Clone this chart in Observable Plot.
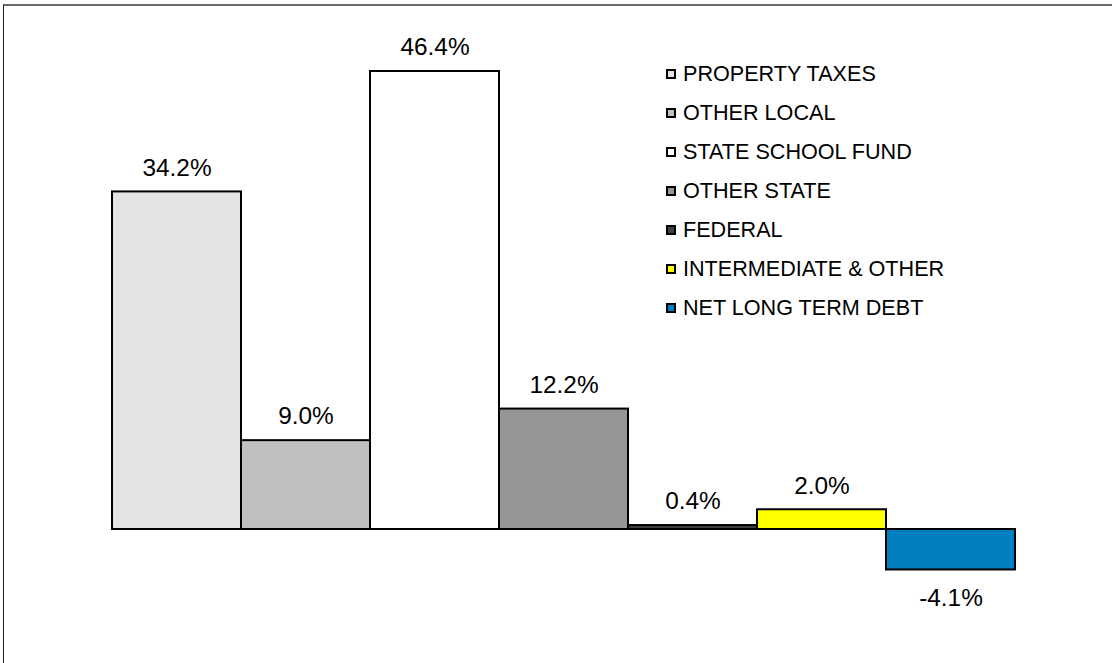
<!DOCTYPE html>
<html>
<head>
<meta charset="utf-8">
<script src="https://cdn.jsdelivr.net/npm/d3@7"></script>
<script src="https://cdn.jsdelivr.net/npm/@observablehq/plot@0.6"></script>
<style>
  html, body { margin: 0; padding: 0; background: #fff; }
  #wrap { position: relative; width: 1112px; height: 663px; overflow: hidden; font-family: "Liberation Sans", Arial, sans-serif; }
  #frame { position: absolute; left: 3px; top: 4px; width: 1200px; height: 700px; border-left: 1.5px solid #202020; border-top: 2px solid #6a6a6a; pointer-events: none; z-index: 2; }
  #legend { position: absolute; left: 666px; top: 54px; font-size: 21.6px; color: #000; z-index: 3; }
  .item { display: flex; align-items: center; height: 39.15px; }
  .sw { width: 6px; height: 6px; border: 2px solid #000; margin-right: 7px; box-sizing: content-box; }
  #chart svg { position: absolute; left: 0; top: 0; z-index: 1; }
</style>
</head>
<body>
<div id="wrap">
  <div id="chart"></div>
  <div id="frame"></div>
  <div id="legend"></div>
</div>
<script>
const categories = ["PROPERTY TAXES", "OTHER LOCAL", "STATE SCHOOL FUND", "OTHER STATE", "FEDERAL", "INTERMEDIATE & OTHER", "NET LONG TERM DEBT"];
const values = [34.2, 9.0, 46.4, 12.2, 0.4, 2.0, -4.1];
const colors = ["#e3e3e3", "#c0c0c0", "#ffffff", "#969696", "#404040", "#ffff00", "#0080c0"];

const data = categories.map((c, i) => ({ category: c, value: values[i], color: colors[i] }));
const fmt = v => v.toFixed(1) + "%";

const chart = Plot.plot({
  width: 1112,
  height: 663,
  margin: 0,
  style: { fontFamily: "'Liberation Sans', Arial, sans-serif", background: "transparent" },
  x: { domain: categories, range: [112, 1015], padding: 0, axis: null },
  y: { domain: [0, 46.4], range: [529, 71], axis: null },
  marks: [
    Plot.barY(data, { x: "category", y: "value", fill: "color", stroke: "#000", strokeWidth: 2 }),
    Plot.text(data.filter(d => d.value >= 0), { x: "category", y: "value", text: d => fmt(d.value), dy: -24, fill: "#000", fontSize: 24.4, lineAnchor: "middle" }),
    Plot.text(data.filter(d => d.value < 0), { x: "category", y: "value", text: d => fmt(d.value), dy: 28, fill: "#000", fontSize: 24.4, lineAnchor: "middle" })
  ]
});
document.getElementById("chart").appendChild(chart);

const legend = document.getElementById("legend");
categories.forEach((c, i) => {
  const item = document.createElement("div");
  item.className = "item";
  const sw = document.createElement("span");
  sw.className = "sw";
  sw.style.background = colors[i];
  const t = document.createElement("span");
  t.textContent = c;
  item.appendChild(sw);
  item.appendChild(t);
  legend.appendChild(item);
});
</script>
</body>
</html>
